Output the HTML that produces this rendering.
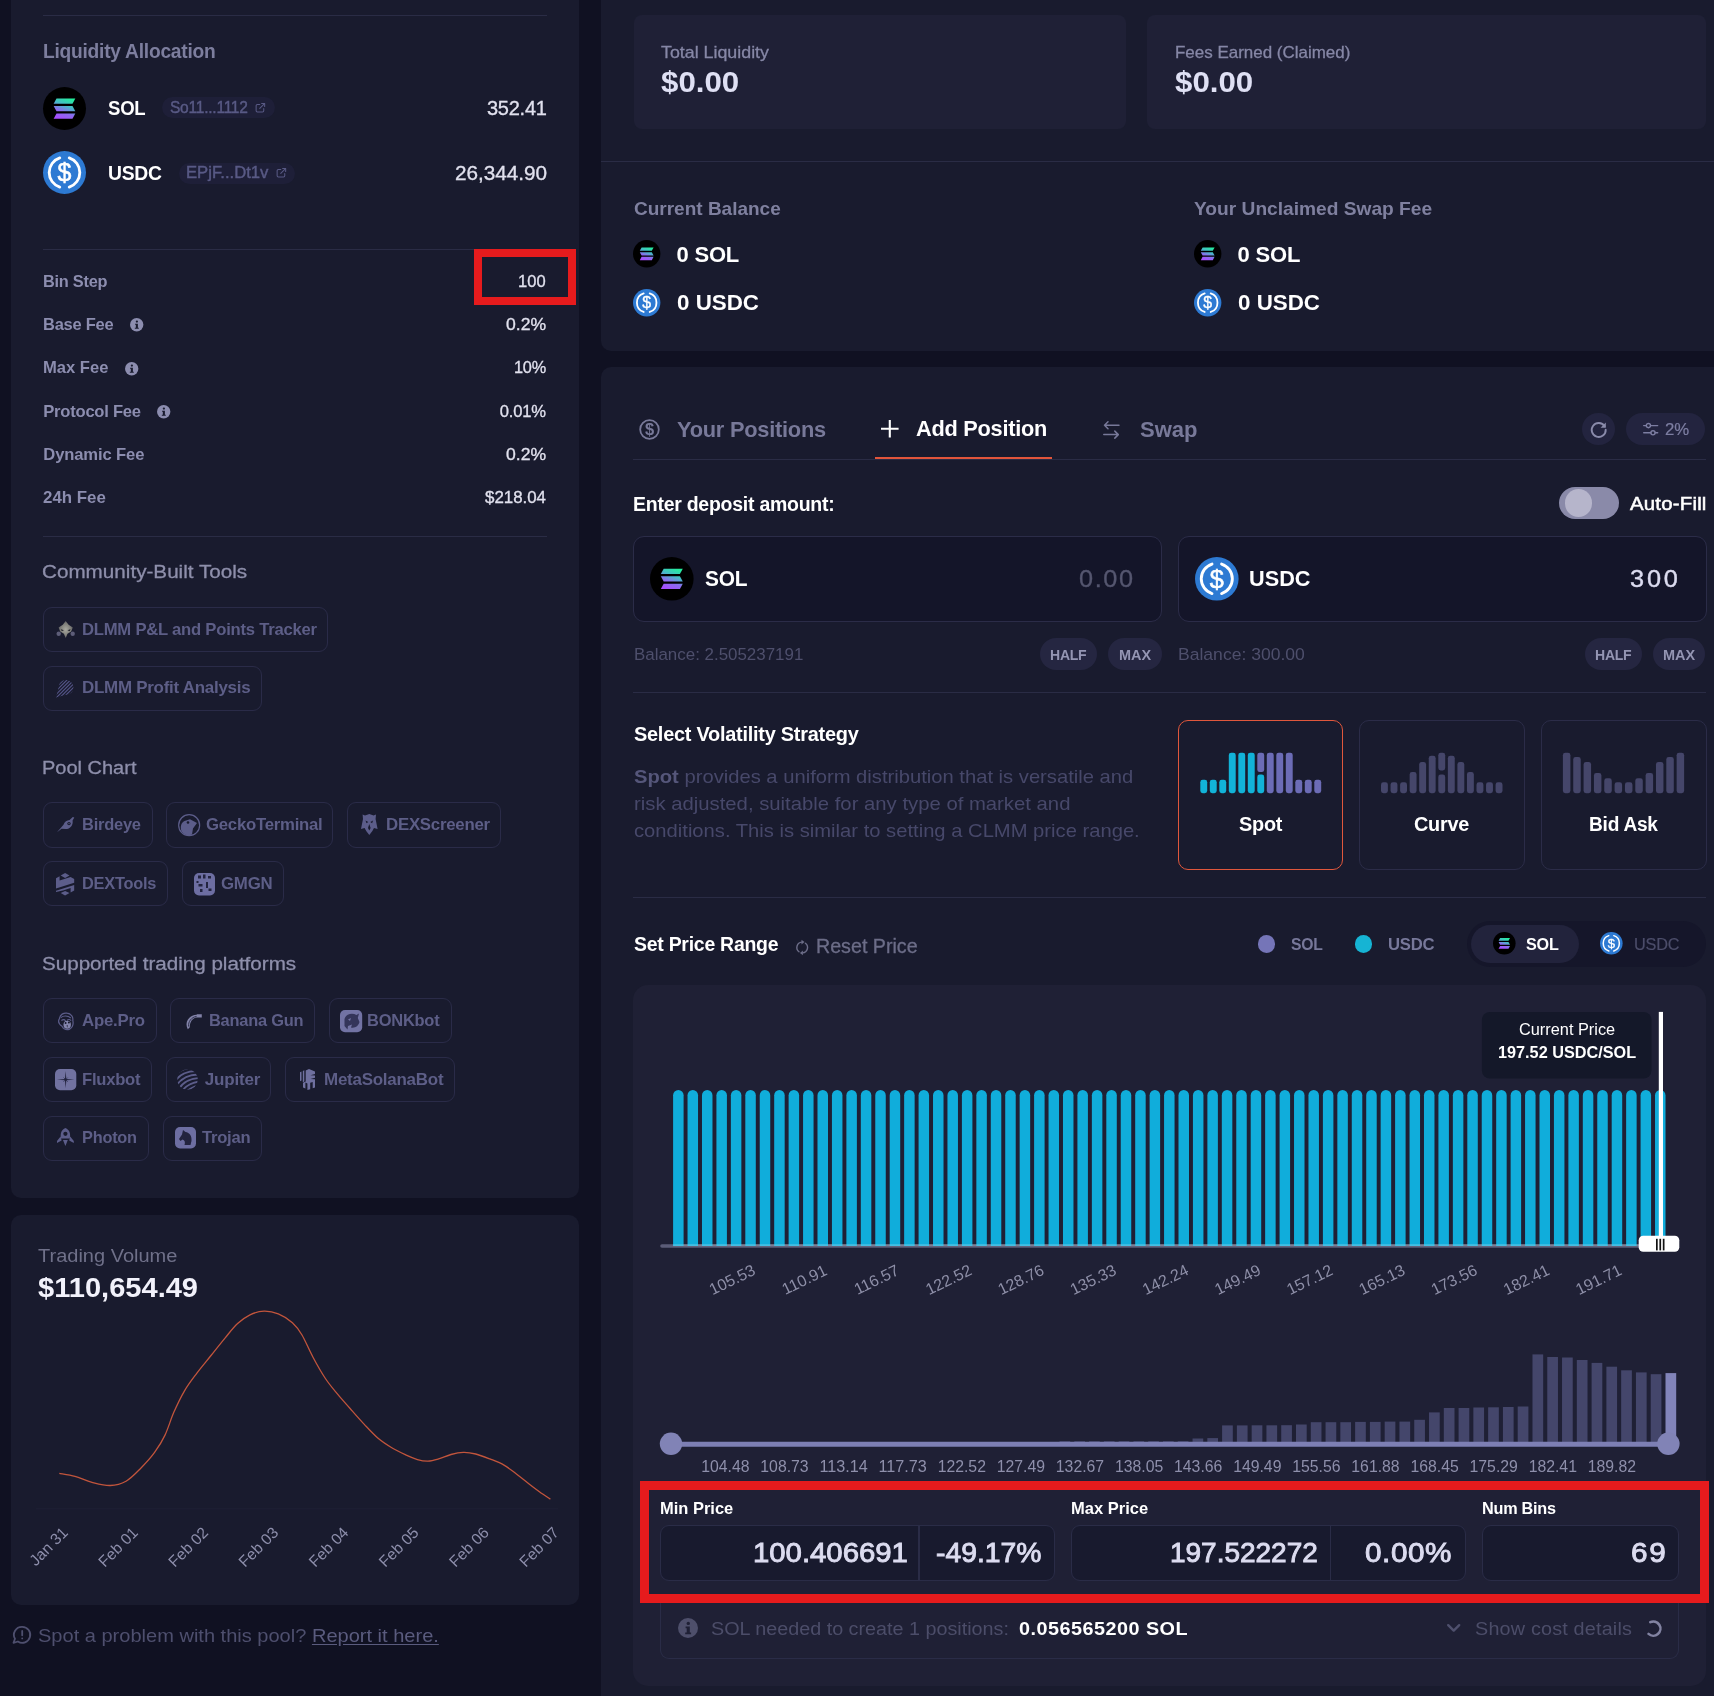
<!DOCTYPE html>
<html><head><meta charset="utf-8"><title>DLMM Pool</title>
<style>
html,body{margin:0;padding:0;background:#101122;}
body{width:1714px;height:1696px;overflow:hidden;position:relative;font-family:"Liberation Sans",sans-serif;}
#root{will-change:transform;position:absolute;left:0;top:0;width:1714px;height:1696px;overflow:hidden;background:#101122;}
.t{position:absolute;white-space:nowrap;margin:0;padding:0;}
.b{position:absolute;margin:0;padding:0;}
svg{overflow:visible;}
</style></head><body><div id="root">
<div class="b" style="left:11.00px;top:-20.00px;width:568.00px;height:1218.30px;background:#191b2e;border-radius:10px;"></div>
<div class="b" style="left:11.00px;top:1215.00px;width:568.00px;height:389.70px;background:#191b2e;border-radius:10px;"></div>
<div class="b" style="left:600.80px;top:-20.00px;width:1133.20px;height:371.00px;background:#191b2e;border-radius:10px;"></div>
<div class="b" style="left:600.80px;top:366.80px;width:1133.20px;height:1353.20px;background:#191b2e;border-radius:10px;"></div>
<div class="b" style="left:43.00px;top:15.00px;width:504.00px;height:1.20px;background:#2a2c45;"></div>
<div class="t" style="left:43.30px;top:38.50px;font-size:19.5px;line-height:25px;color:#7d7e9e;letter-spacing:-0.250px;font-weight:700;transform:scaleX(0.9843);transform-origin:0 0;">Liquidity Allocation</div>
<svg class="b" style="left:43.00px;top:86.80px;" width="43.00" height="43.00" viewBox="0 0 100 100"><defs><linearGradient id="sg1" gradientUnits="userSpaceOnUse" x1="40" y1="75" x2="60" y2="25"><stop offset="0" stop-color="#a84cff"/><stop offset="0.35" stop-color="#8a6cee"/><stop offset="0.65" stop-color="#45bcc6"/><stop offset="1" stop-color="#22f09c"/></linearGradient></defs><circle cx="50" cy="50" r="50" fill="#000"/><g fill="url(#sg1)"><polygon points="31.4,27 75.2,27 68.6,39.2 24.8,39.2"/><polygon points="24.8,44.4 68.6,44.4 75.2,56.4 31.4,56.4"/><polygon points="31.4,61.6 75.2,61.6 68.6,73.6 24.8,73.6"/></g></svg>
<div class="t" style="left:108.00px;top:95.00px;font-size:20px;line-height:26px;color:#ffffff;letter-spacing:-0.250px;font-weight:700;transform:scaleX(0.9282);transform-origin:0 0;">SOL</div>
<div class="b" style="left:161.50px;top:96.80px;width:113.40px;height:21.60px;background:#1e1f38;border-radius:11px;"></div>
<div class="t" style="left:169.90px;top:97.50px;font-size:15.7px;line-height:20px;color:#595a85;letter-spacing:-0.250px;-webkit-text-stroke:0.4px #595a85;transform:scaleX(0.9911);transform-origin:0 0;">So11...1112</div>
<svg class="b" style="left:253.60px;top:101.60px;" width="12.20" height="12.20" viewBox="0 0 20 20"><g fill="none" stroke="#595a85" stroke-width="1.7" stroke-linecap="round" stroke-linejoin="round"><path d="M9.5 4H5.5A2 2 0 0 0 3.5 6v8.5a2 2 0 0 0 2 2H14a2 2 0 0 0 2-2V10.5"/><path d="M12.5 2.5H17.5V7.5"/><path d="M17.2 2.8L9.5 10.5"/></g></svg>
<div class="t" style="left:486.90px;top:95.00px;font-size:20px;line-height:26px;color:#e1e1ee;letter-spacing:-0.250px;-webkit-text-stroke:0.3px #e1e1ee;transform:scaleX(0.9996);transform-origin:0 0;">352.41</div>
<svg class="b" style="left:43.00px;top:151.40px;" width="43.00" height="43.00" viewBox="0 0 100 100"><circle cx="50" cy="50" r="50" fill="#2d7ad3"/><g fill="none" stroke="#fff" stroke-width="6.6" stroke-linecap="round"><path d="M39 16.2 A35.5 35.5 0 0 0 39 83.8"/><path d="M61 16.2 A35.5 35.5 0 0 1 61 83.8"/></g><text x="50" y="70.8" text-anchor="middle" font-family="Liberation Sans, sans-serif" font-size="58" fill="#fff" stroke="#fff" stroke-width="1.3">$</text></svg>
<div class="t" style="left:108.00px;top:160.00px;font-size:20px;line-height:26px;color:#ffffff;letter-spacing:-0.250px;font-weight:700;transform:scaleX(0.9656);transform-origin:0 0;">USDC</div>
<div class="b" style="left:178.80px;top:162.50px;width:116.10px;height:21.20px;background:#1e1f38;border-radius:11px;"></div>
<div class="t" style="left:186.40px;top:162.50px;font-size:15.7px;line-height:20px;color:#595a85;letter-spacing:0.000px;-webkit-text-stroke:0.4px #595a85;transform:scaleX(1.0623);transform-origin:0 0;">EPjF...Dt1v</div>
<svg class="b" style="left:274.60px;top:166.70px;" width="12.20" height="12.20" viewBox="0 0 20 20"><g fill="none" stroke="#595a85" stroke-width="1.7" stroke-linecap="round" stroke-linejoin="round"><path d="M9.5 4H5.5A2 2 0 0 0 3.5 6v8.5a2 2 0 0 0 2 2H14a2 2 0 0 0 2-2V10.5"/><path d="M12.5 2.5H17.5V7.5"/><path d="M17.2 2.8L9.5 10.5"/></g></svg>
<div class="t" style="left:454.70px;top:160.00px;font-size:20px;line-height:26px;color:#e1e1ee;letter-spacing:0.000px;-webkit-text-stroke:0.3px #e1e1ee;transform:scaleX(1.0351);transform-origin:0 0;">26,344.90</div>
<div class="b" style="left:43.00px;top:248.80px;width:504.00px;height:1.20px;background:#2a2c45;"></div>
<div class="t" style="left:43.30px;top:270.50px;font-size:16.6px;line-height:22px;color:#8c8daf;letter-spacing:-0.250px;font-weight:700;transform:scaleX(0.9840);transform-origin:0 0;">Bin Step</div>
<div class="t" style="left:518.37px;top:270.50px;font-size:16.6px;line-height:22px;color:#e1e1ee;letter-spacing:0.000px;-webkit-text-stroke:0.3px #e1e1ee;transform:scaleX(0.9976);transform-origin:0 0;">100</div>
<div class="t" style="left:43.30px;top:313.50px;font-size:16.6px;line-height:22px;color:#8c8daf;letter-spacing:-0.250px;font-weight:700;transform:scaleX(0.9941);transform-origin:0 0;">Base Fee</div>
<div class="t" style="left:505.87px;top:313.50px;font-size:16.6px;line-height:22px;color:#e1e1ee;letter-spacing:0.000px;-webkit-text-stroke:0.3px #e1e1ee;transform:scaleX(1.0606);transform-origin:0 0;">0.2%</div>
<div class="t" style="left:43.30px;top:356.50px;font-size:16.6px;line-height:22px;color:#8c8daf;letter-spacing:0.000px;font-weight:700;transform:scaleX(0.9988);transform-origin:0 0;">Max Fee</div>
<div class="t" style="left:513.87px;top:356.50px;font-size:16.6px;line-height:22px;color:#e1e1ee;letter-spacing:-0.250px;-webkit-text-stroke:0.3px #e1e1ee;transform:scaleX(0.9818);transform-origin:0 0;">10%</div>
<div class="t" style="left:43.30px;top:400.50px;font-size:16.6px;line-height:22px;color:#8c8daf;letter-spacing:-0.247px;font-weight:700;">Protocol Fee</div>
<div class="t" style="left:499.67px;top:400.50px;font-size:16.6px;line-height:22px;color:#e1e1ee;letter-spacing:-0.185px;-webkit-text-stroke:0.3px #e1e1ee;">0.01%</div>
<div class="t" style="left:43.30px;top:443.50px;font-size:16.6px;line-height:22px;color:#8c8daf;letter-spacing:-0.128px;font-weight:700;">Dynamic Fee</div>
<div class="t" style="left:505.87px;top:443.50px;font-size:16.6px;line-height:22px;color:#e1e1ee;letter-spacing:0.000px;-webkit-text-stroke:0.3px #e1e1ee;transform:scaleX(1.0606);transform-origin:0 0;">0.2%</div>
<div class="t" style="left:43.30px;top:486.50px;font-size:16.6px;line-height:22px;color:#8c8daf;letter-spacing:-0.000px;font-weight:700;transform:scaleX(1.0163);transform-origin:0 0;">24h Fee</div>
<div class="t" style="left:484.97px;top:486.50px;font-size:16.6px;line-height:22px;color:#e1e1ee;letter-spacing:0.000px;-webkit-text-stroke:0.3px #e1e1ee;transform:scaleX(1.0171);transform-origin:0 0;">$218.04</div>
<svg class="b" style="left:129.90px;top:318.00px;" width="13.40" height="13.40" viewBox="0 0 20 20"><circle cx="10" cy="10" r="10" fill="#8c8daf"/><circle cx="10.3" cy="5.4" r="1.7" fill="#191b2e"/><path d="M7.6 8.6h4.2v6h1.3v1.6H7.2v-1.6h1.5v-4.4H7.6z" fill="#191b2e"/></svg>
<svg class="b" style="left:124.90px;top:361.50px;" width="13.40" height="13.40" viewBox="0 0 20 20"><circle cx="10" cy="10" r="10" fill="#8c8daf"/><circle cx="10.3" cy="5.4" r="1.7" fill="#191b2e"/><path d="M7.6 8.6h4.2v6h1.3v1.6H7.2v-1.6h1.5v-4.4H7.6z" fill="#191b2e"/></svg>
<svg class="b" style="left:156.80px;top:404.90px;" width="13.40" height="13.40" viewBox="0 0 20 20"><circle cx="10" cy="10" r="10" fill="#8c8daf"/><circle cx="10.3" cy="5.4" r="1.7" fill="#191b2e"/><path d="M7.6 8.6h4.2v6h1.3v1.6H7.2v-1.6h1.5v-4.4H7.6z" fill="#191b2e"/></svg>
<div class="b" style="left:473.70px;top:248.90px;width:101.90px;height:55.70px;border:8.9px solid #e61b1d;box-sizing:border-box;"></div>
<div class="b" style="left:43.00px;top:535.80px;width:504.00px;height:1.20px;background:#2a2c45;"></div>
<div class="t" style="left:42.40px;top:559.50px;font-size:18.8px;line-height:24px;color:#8e8fab;letter-spacing:0.000px;-webkit-text-stroke:0.3px #8e8fab;transform:scaleX(1.1000);transform-origin:0 0;">Community-Built Tools</div>
<div class="t" style="left:42.40px;top:755.50px;font-size:18.8px;line-height:24px;color:#8e8fab;letter-spacing:0.000px;-webkit-text-stroke:0.3px #8e8fab;transform:scaleX(1.0643);transform-origin:0 0;">Pool Chart</div>
<div class="t" style="left:42.40px;top:951.50px;font-size:18.8px;line-height:24px;color:#8e8fab;letter-spacing:0.000px;-webkit-text-stroke:0.3px #8e8fab;transform:scaleX(1.0963);transform-origin:0 0;">Supported trading platforms</div>
<div class="b" style="left:42.60px;top:606.70px;width:285.90px;height:45.40px;border:1.2px solid #2a2b48;border-radius:9px;box-sizing:border-box;"></div>
<div class="t" style="left:82.20px;top:618.50px;font-size:17px;line-height:22px;color:#5d5e87;letter-spacing:-0.250px;font-weight:700;transform:scaleX(0.9804);transform-origin:0 0;">DLMM P&amp;L and Points Tracker</div>
<div class="b" style="left:42.60px;top:665.80px;width:219.50px;height:45.40px;border:1.2px solid #2a2b48;border-radius:9px;box-sizing:border-box;"></div>
<div class="t" style="left:82.20px;top:676.50px;font-size:17px;line-height:22px;color:#5d5e87;letter-spacing:-0.250px;font-weight:700;transform:scaleX(0.9958);transform-origin:0 0;">DLMM Profit Analysis</div>
<div class="b" style="left:42.60px;top:801.90px;width:110.60px;height:46.30px;border:1.2px solid #2a2b48;border-radius:9px;box-sizing:border-box;"></div>
<div class="t" style="left:82.20px;top:813.50px;font-size:17px;line-height:22px;color:#5d5e87;letter-spacing:-0.250px;font-weight:700;transform:scaleX(0.9685);transform-origin:0 0;">Birdeye</div>
<div class="b" style="left:165.50px;top:801.90px;width:167.70px;height:46.30px;border:1.2px solid #2a2b48;border-radius:9px;box-sizing:border-box;"></div>
<div class="t" style="left:205.50px;top:813.50px;font-size:17px;line-height:22px;color:#5d5e87;letter-spacing:-0.250px;font-weight:700;transform:scaleX(0.9847);transform-origin:0 0;">GeckoTerminal</div>
<div class="b" style="left:346.50px;top:801.90px;width:154.90px;height:46.30px;border:1.2px solid #2a2b48;border-radius:9px;box-sizing:border-box;"></div>
<div class="t" style="left:385.90px;top:813.50px;font-size:17px;line-height:22px;color:#5d5e87;letter-spacing:-0.250px;font-weight:700;transform:scaleX(0.9897);transform-origin:0 0;">DEXScreener</div>
<div class="b" style="left:42.70px;top:860.70px;width:125.50px;height:45.40px;border:1.2px solid #2a2b48;border-radius:9px;box-sizing:border-box;"></div>
<div class="t" style="left:82.30px;top:872.50px;font-size:17px;line-height:22px;color:#5d5e87;letter-spacing:-0.250px;font-weight:700;transform:scaleX(0.9621);transform-origin:0 0;">DEXTools</div>
<div class="b" style="left:181.50px;top:860.70px;width:102.60px;height:45.40px;border:1.2px solid #2a2b48;border-radius:9px;box-sizing:border-box;"></div>
<div class="t" style="left:220.90px;top:872.50px;font-size:17px;line-height:22px;color:#5d5e87;letter-spacing:-0.250px;font-weight:700;transform:scaleX(0.9907);transform-origin:0 0;">GMGN</div>
<div class="b" style="left:42.70px;top:997.70px;width:114.00px;height:45.40px;border:1.2px solid #2a2b48;border-radius:9px;box-sizing:border-box;"></div>
<div class="t" style="left:82.30px;top:1009.50px;font-size:17px;line-height:22px;color:#5d5e87;letter-spacing:-0.250px;font-weight:700;transform:scaleX(0.9886);transform-origin:0 0;">Ape.Pro</div>
<div class="b" style="left:169.60px;top:997.70px;width:145.50px;height:45.40px;border:1.2px solid #2a2b48;border-radius:9px;box-sizing:border-box;"></div>
<div class="t" style="left:209.20px;top:1009.50px;font-size:17px;line-height:22px;color:#5d5e87;letter-spacing:-0.250px;font-weight:700;transform:scaleX(0.9650);transform-origin:0 0;">Banana Gun</div>
<div class="b" style="left:329.00px;top:997.70px;width:122.60px;height:45.40px;border:1.2px solid #2a2b48;border-radius:9px;box-sizing:border-box;"></div>
<div class="t" style="left:367.40px;top:1009.50px;font-size:17px;line-height:22px;color:#5d5e87;letter-spacing:-0.250px;font-weight:700;transform:scaleX(0.9689);transform-origin:0 0;">BONKbot</div>
<div class="b" style="left:42.70px;top:1056.90px;width:109.40px;height:45.40px;border:1.2px solid #2a2b48;border-radius:9px;box-sizing:border-box;"></div>
<div class="t" style="left:82.30px;top:1068.50px;font-size:17px;line-height:22px;color:#5d5e87;letter-spacing:-0.250px;font-weight:700;transform:scaleX(0.9778);transform-origin:0 0;">Fluxbot</div>
<div class="b" style="left:165.80px;top:1056.90px;width:105.50px;height:45.40px;border:1.2px solid #2a2b48;border-radius:9px;box-sizing:border-box;"></div>
<div class="t" style="left:204.80px;top:1068.50px;font-size:17px;line-height:22px;color:#5d5e87;letter-spacing:-0.172px;font-weight:700;">Jupiter</div>
<div class="b" style="left:285.10px;top:1056.90px;width:170.10px;height:45.40px;border:1.2px solid #2a2b48;border-radius:9px;box-sizing:border-box;"></div>
<div class="t" style="left:324.10px;top:1068.50px;font-size:17px;line-height:22px;color:#5d5e87;letter-spacing:-0.250px;font-weight:700;transform:scaleX(0.9979);transform-origin:0 0;">MetaSolanaBot</div>
<div class="b" style="left:42.70px;top:1115.90px;width:106.60px;height:45.40px;border:1.2px solid #2a2b48;border-radius:9px;box-sizing:border-box;"></div>
<div class="t" style="left:82.30px;top:1126.50px;font-size:17px;line-height:22px;color:#5d5e87;letter-spacing:-0.250px;font-weight:700;transform:scaleX(0.9609);transform-origin:0 0;">Photon</div>
<div class="b" style="left:162.60px;top:1115.90px;width:99.60px;height:45.40px;border:1.2px solid #2a2b48;border-radius:9px;box-sizing:border-box;"></div>
<div class="t" style="left:202.20px;top:1126.50px;font-size:17px;line-height:22px;color:#5d5e87;letter-spacing:-0.250px;font-weight:700;transform:scaleX(0.9777);transform-origin:0 0;">Trojan</div>
<svg class="b" style="left:56.00px;top:620.80px;" width="19.40" height="17.00" viewBox="0 0 19.400 17"><defs><radialGradient id="pg" cx=".5" cy=".5" r=".6"><stop offset="0" stop-color="#a9a9a0"/><stop offset=".6" stop-color="#7d7d78"/><stop offset="1" stop-color="#4a4a55"/></radialGradient></defs><path d="M9.700 0L12.600 3.800L16.800 6.500L15.200 10.600L11.500 12.800L9.700 17L7.900 12.800L4.200 10.600L2.600 6.500L6.800 3.800Z" fill="url(#pg)"/><circle cx="2.700" cy="12.800" r="2.200" fill="#5d5d78"/><circle cx="16.700" cy="12.800" r="2.200" fill="#5d5d78"/><path d="M4.800 8.200l3.200 1-2.200 .900zM14.600 8.200l-3.200 1 2.200 .900z" fill="#15161f"/></svg>
<svg class="b" style="left:56.40px;top:680.00px;" width="17.40" height="17.40" viewBox="0 0 17.400 17.400"><defs><clipPath id="hc"><circle cx="10" cy="7.400" r="7.400"/><path d="M3.500 3.800L0 17.400L13.600 13.900Z"/></clipPath></defs><g clip-path="url(#hc)" stroke="#55568a" stroke-width="1.150"><line x1="-2" y1="6.00" x2="6.00" y2="-2"/><line x1="-2" y1="9.50" x2="9.50" y2="-2"/><line x1="-2" y1="13.00" x2="13.00" y2="-2"/><line x1="-2" y1="16.50" x2="16.50" y2="-2"/><line x1="-2" y1="20.00" x2="20.00" y2="-2"/><line x1="-2" y1="23.50" x2="23.50" y2="-2"/><line x1="-2" y1="27.00" x2="27.00" y2="-2"/><line x1="-2" y1="30.50" x2="30.50" y2="-2"/></g></svg>
<svg class="b" style="left:56.90px;top:817.20px;" width="17.80" height="15.40" viewBox="0 0 17.800 15.400"><path d="M0 15.200 L6.500 7.800 C7.500 4.800 10 3.200 12.600 3 L15.800 0 L17.300 .6 L15.600 3.400 C16.400 8 13.400 12 8.600 12 L4.600 11.800 Z" fill="#5c5d8a"/><circle cx="12" cy="6.600" r="1.700" fill="#191b2e"/><circle cx="12" cy="6.600" r=".7" fill="#5c5d8a"/></svg>
<svg class="b" style="left:177.70px;top:813.90px;" width="22.30" height="22.30" viewBox="0 0 22.300 22.300"><circle cx="11.150" cy="11.150" r="10.500" fill="none" stroke="#5c5d8a" stroke-width="1.200"/><path d="M3.600 17.500 C2 13 3 8.500 6.500 7 L12 5.200 L19 9 L15 14.500 L14 20.500 C10 22 6 20.800 3.600 17.500Z" fill="#5c5d8a"/><circle cx="10" cy="8.500" r="1.300" fill="#191b2e"/></svg>
<svg class="b" style="left:360.50px;top:814.20px;" width="16.60" height="21.00" viewBox="0 0 16.600 21"><path d="M8.300 0 L12.600 1.600 L15 .600 L14.600 5 L16.600 15 L13 14 L11.400 17 L8.300 21 L5.200 17 L3.600 14 L0 15 L2 5 L1.600 .600 L4 1.600 Z" fill="#5c5d8a"/><path d="M4.500 6.500l2.800 1.500-1.800 1.200zM12.100 6.500l-2.800 1.500 1.800 1.200z" fill="#191b2e"/><path d="M8.300 10 L9.600 14 L8.300 16.500 L7 14Z" fill="#191b2e"/></svg>
<svg class="b" style="left:56.20px;top:872.70px;" width="18.20" height="22.60" viewBox="0 0 18.200 22.600"><g fill="#5c5d8a"><path d="M9.100 0 L13.500 2.500 L9.100 5 L4.700 2.500Z"/><path d="M0 5.200 L3.600 3.200 L3.600 7.600 L14.600 4 L18.200 5.900 L18.200 9.800 L0 15.600Z"/><path d="M18.200 12 L18.200 17.400 L14.600 19.400 L14.600 15 L7 17.600 L0 19 L0 17.800Z"/><path d="M9.100 22.600 L4.700 20.100 L9.100 17.900 L13.500 20.100Z"/></g></svg>
<svg class="b" style="left:194.00px;top:872.70px;" width="21.00" height="22.40" viewBox="0 0 21 22.400"><rect width="21" height="22.400" rx="5" fill="#6d6ea2"/><g fill="#23243f"><rect x="4" y="2.500" width="3" height="3"/><rect x="9" y="1.500" width="2.500" height="4"/><rect x="14" y="3" width="3" height="2.500"/><rect x="2.500" y="8" width="2" height="2"/><rect x="4.500" y="11" width="4" height="2.500"/><rect x="12" y="9" width="2" height="6"/><rect x="6" y="16" width="2.500" height="3"/><rect x="14.500" y="15.500" width="3" height="2.500"/></g></svg>
<svg class="b" style="left:56.80px;top:1011.90px;" width="16.80" height="18.20" viewBox="0 0 16.800 18.200"><g fill="none" stroke="#5c5d8a" stroke-width="1.200"><path d="M2.600 6.200C3 2.600 6.600 .600 10 1.200C14 1.600 16.400 4.800 15.800 8.400C16.600 11.800 15.400 15.600 12.200 17.400C9.200 18.200 6.400 16.800 5 14.200C2.200 12.400 .600 9.400 2.600 6.200Z"/><path d="M3.800 5.600C6.400 3.400 10.800 3.400 13.800 6"/><path d="M4.400 8.600C6 7.400 7.600 7.600 8.600 8.800M10.200 8.200C11.600 7 13.200 7.400 14 8.800"/></g><ellipse cx="10.200" cy="12.800" rx="3.700" ry="4" fill="#8485ad"/><circle cx="8.600" cy="11" r="1" fill="#191b2e"/><circle cx="11.900" cy="10.600" r="1" fill="#191b2e"/><path d="M9.600 13.200L10.800 13.200L10.200 16Z" fill="#191b2e"/></svg>
<svg class="b" style="left:184.60px;top:1014.20px;" width="17.20" height="15.40" viewBox="0 0 17.200 15.400"><path d="M2.800 15.200C-.800 8.400 3.400 1.400 11.800 .800L11.800 .200L16.800 .200L16.800 3.400L11.800 3.400C7.200 4 4.600 8.200 4.800 13.200Z" fill="#8283a8"/><path d="M3.600 12.600C3 7.600 6.400 3.200 11.600 2.400" fill="none" stroke="#2a2b48" stroke-width=".9"/></svg>
<svg class="b" style="left:339.80px;top:1009.80px;" width="22.20" height="22.20" viewBox="0 0 22.200 22.200"><rect width="22.200" height="22.200" rx="5" fill="#7273a4"/><path d="M4.500 9C6 4 12 2.500 16.500 5L19 3.500L17.800 8L19.500 12C18.500 16 15 18.500 11 17.500L12 14.500L8 16L7.500 19.500L4.500 16Z" fill="#34355a"/><path d="M8 9.500L11 8L10 11Z" fill="#7273a4"/></svg>
<svg class="b" style="left:54.80px;top:1068.80px;" width="21.30" height="21.30" viewBox="0 0 21.300 21.300"><rect width="21.300" height="21.300" rx="5" fill="#7172a0"/><path d="M10.650 2L11.350 9.950L19.300 10.650L11.350 11.350L10.650 19.300L9.950 11.350L2 10.650L9.950 9.950Z" fill="#23243f"/><path d="M8.600 8.600L12.700 12.700M12.700 8.600L8.600 12.700" stroke="#23243f" stroke-width=".7"/></svg>
<svg class="b" style="left:176.80px;top:1068.80px;" width="21.00" height="21.00" viewBox="0 0 21 21"><defs><clipPath id="jc"><circle cx="10.500" cy="10.500" r="10.300"/></clipPath></defs><g clip-path="url(#jc)"><g transform="rotate(-32 10.500 10.500)" fill="none" stroke="#5c5d8a" stroke-width="2"><path d="M-4 2.5 C5 -2.5 16 -1.5 26 6.5"/><path d="M-4 6.6 C5 1.6 16 2.6 26 10.6"/><path d="M-4 10.7 C5 5.7 16 6.7 26 14.7"/><path d="M-4 14.8 C5 9.8 16 10.8 26 18.8"/><path d="M-4 18.9 C5 13.9 16 14.9 26 22.9"/><path d="M-4 23.0 C5 18.0 16 19.0 26 27.0"/><path d="M-4 27.1 C5 22.1 16 23.1 26 31.1"/></g></g></svg>
<svg class="b" style="left:299.90px;top:1069.20px;" width="15.00" height="21.00" viewBox="0 0 15 21"><g fill="#6f709f"><path d="M0 3.200L1.500 2.400L1.500 11.400L0 12.200Z"/><path d="M2.800 2L4.300 1.200L4.300 12.400L2.800 13.200Z"/><path d="M5.700 1.600L9 0L15 2.400L15 5L10.400 6.200L15 6.600L15 8.800L10.400 10L15 10.200L15 18.400L12.700 19.200L12.700 13L10.200 13.800L10.200 20.200L7.400 21L7.400 14.600L5.400 13.400L5.400 19.600L3 18.400L3 13.800L5.700 12.600Z"/></g></svg>
<svg class="b" style="left:56.90px;top:1127.90px;" width="16.80" height="18.00" viewBox="0 0 16.800 18"><g fill="#5c5d8a"><path d="M8.400 0 C12.500 1.500 13.800 6 12.800 10.500 L4 10.500 C3 6 4.300 1.500 8.400 0Z"/><path d="M3.600 8.500 L0 13 L0 15 L4.600 12.500Z"/><path d="M13.200 8.500 L16.800 13 L16.800 15 L12.200 12.500Z"/><path d="M6 12 L10.800 12 L8.400 18Z"/></g><circle cx="8.400" cy="5.800" r="2.100" fill="#191b2e"/></svg>
<svg class="b" style="left:174.70px;top:1127.40px;" width="21.00" height="21.40" viewBox="0 0 21 21.400"><rect width="21" height="21.400" rx="5" fill="#6d6ea2"/><path d="M8 3 L10.500 5 C14.500 5.500 17 9 16.500 14 L15.500 18 L9.500 18 C10.500 15 9.500 13 7.500 12.500 L5.500 14 L4 12 L7 7.500Z" fill="#23243f"/></svg>
<div class="t" style="left:38.20px;top:1243.50px;font-size:18.3px;line-height:24px;color:#6f7089;letter-spacing:-0.000px;transform:scaleX(1.0943);transform-origin:0 0;">Trading Volume</div>
<div class="t" style="left:38.20px;top:1269.50px;font-size:27.6px;line-height:36px;color:#f2f2fb;letter-spacing:0.000px;font-weight:700;transform:scaleX(1.0534);transform-origin:0 0;">$110,654.49</div>
<svg class="b" style="left:0.00px;top:0.00px;pointer-events:none;" width="600.00" height="1696.00" viewBox="0 0 600 1696"><line x1="36" x2="558" y1="1508.8" y2="1508.8" stroke="#1e2036" stroke-width="1"/><path d="M59.3 1473.4 C61.9 1473.9 69.5 1474.9 75.0 1476.4 C80.5 1477.9 86.1 1480.8 92.0 1482.3 C97.9 1483.8 104.5 1485.7 110.2 1485.5 C115.9 1485.3 121.0 1484.0 126.0 1481.2 C131.0 1478.4 135.6 1473.5 140.3 1468.7 C145.0 1464.0 150.3 1458.3 154.4 1452.7 C158.5 1447.1 161.8 1441.9 165.0 1435.1 C168.2 1428.3 170.7 1419.5 173.9 1412.1 C177.2 1404.7 180.7 1397.3 184.5 1390.8 C188.3 1384.3 192.5 1379.0 196.9 1373.1 C201.3 1367.2 206.3 1361.4 211.0 1355.5 C215.7 1349.6 220.8 1343.1 225.2 1337.8 C229.6 1332.5 233.5 1327.4 237.6 1323.6 C241.7 1319.8 245.6 1316.9 250.0 1314.8 C254.4 1312.7 259.4 1311.3 264.1 1311.2 C268.8 1311.1 273.6 1312.0 278.3 1313.9 C283.0 1315.8 288.4 1319.2 292.4 1322.7 C296.3 1326.2 298.6 1329.2 302.0 1335.0 C305.4 1340.8 309.1 1350.0 313.0 1357.2 C316.9 1364.5 321.3 1372.3 325.4 1378.5 C329.5 1384.7 333.7 1389.4 337.8 1394.4 C341.9 1399.4 345.7 1403.5 350.1 1408.5 C354.5 1413.5 359.6 1419.4 364.3 1424.4 C369.0 1429.4 373.7 1434.6 378.4 1438.6 C383.1 1442.6 387.9 1445.5 392.6 1448.3 C397.3 1451.1 402.7 1453.5 406.8 1455.4 C410.9 1457.3 413.9 1458.5 417.4 1459.5 C420.9 1460.5 424.5 1461.2 428.0 1461.1 C431.5 1461.0 434.8 1460.0 438.6 1458.9 C442.4 1457.8 446.9 1455.6 451.0 1454.5 C455.1 1453.4 459.3 1452.5 463.4 1452.4 C467.5 1452.3 471.3 1452.9 475.7 1454.0 C480.1 1455.1 485.2 1457.1 489.9 1458.9 C494.6 1460.8 499.6 1462.6 504.0 1465.1 C508.4 1467.6 512.3 1470.9 516.4 1474.0 C520.5 1477.1 525.0 1480.8 528.8 1483.7 C532.6 1486.7 535.8 1489.1 539.4 1491.7 C543.0 1494.3 548.6 1497.9 550.4 1499.1" fill="none" stroke="#c2553c" stroke-width="1.3"/><text x="68.9" y="1533.6" text-anchor="end" transform="rotate(-45 68.9 1533.6)" font-family="Liberation Sans, sans-serif" font-size="15.6" fill="#8d8eab">Jan 31</text><text x="139.0" y="1533.6" text-anchor="end" transform="rotate(-45 139.0 1533.6)" font-family="Liberation Sans, sans-serif" font-size="15.6" fill="#8d8eab">Feb 01</text><text x="209.2" y="1533.6" text-anchor="end" transform="rotate(-45 209.2 1533.6)" font-family="Liberation Sans, sans-serif" font-size="15.6" fill="#8d8eab">Feb 02</text><text x="279.4" y="1533.6" text-anchor="end" transform="rotate(-45 279.4 1533.6)" font-family="Liberation Sans, sans-serif" font-size="15.6" fill="#8d8eab">Feb 03</text><text x="349.5" y="1533.6" text-anchor="end" transform="rotate(-45 349.5 1533.6)" font-family="Liberation Sans, sans-serif" font-size="15.6" fill="#8d8eab">Feb 04</text><text x="419.7" y="1533.6" text-anchor="end" transform="rotate(-45 419.7 1533.6)" font-family="Liberation Sans, sans-serif" font-size="15.6" fill="#8d8eab">Feb 05</text><text x="489.8" y="1533.6" text-anchor="end" transform="rotate(-45 489.8 1533.6)" font-family="Liberation Sans, sans-serif" font-size="15.6" fill="#8d8eab">Feb 06</text><text x="560.0" y="1533.6" text-anchor="end" transform="rotate(-45 560.0 1533.6)" font-family="Liberation Sans, sans-serif" font-size="15.6" fill="#8d8eab">Feb 07</text></svg>
<svg class="b" style="left:12.00px;top:1624.50px;" width="19.50" height="19.50" viewBox="0 0 19.500 19.500"><g fill="none" stroke="#4e4f6e" stroke-width="1.8" stroke-linecap="round" stroke-linejoin="round"><path d="M10.200 1.800a8 8 0 1 1-4.300 14.700L1.500 17.800l1.500-4A8 8 0 0 1 10.200 1.800z"/><path d="M10.200 6v4.300"/><path d="M10.200 13.300v.1"/></g></svg>
<div class="t" style="left:38.10px;top:1623.00px;font-size:19px;line-height:25px;color:#4e4f6e;letter-spacing:0.000px;transform:scaleX(1.0543);transform-origin:0 0;">Spot a problem with this pool? <span style="text-decoration:underline;color:#5a5b7e;text-underline-offset:2px">Report it here.</span></div>
<div class="b" style="left:634.10px;top:14.70px;width:491.70px;height:113.90px;background:#1f2036;border-radius:8px;"></div>
<div class="b" style="left:1147.30px;top:14.70px;width:558.80px;height:113.90px;background:#1f2036;border-radius:8px;"></div>
<div class="t" style="left:661.00px;top:41.50px;font-size:17px;line-height:22px;color:#8687a6;letter-spacing:0.000px;-webkit-text-stroke:0.3px #8687a6;transform:scaleX(1.0480);transform-origin:0 0;">Total Liquidity</div>
<div class="t" style="left:661.00px;top:63.50px;font-size:28.6px;line-height:37px;color:#dfe0f4;letter-spacing:0.000px;font-weight:700;transform:scaleX(1.0930);transform-origin:0 0;">$0.00</div>
<div class="t" style="left:1174.50px;top:41.50px;font-size:17px;line-height:22px;color:#8687a6;letter-spacing:0.000px;-webkit-text-stroke:0.3px #8687a6;transform:scaleX(0.9978);transform-origin:0 0;">Fees Earned (Claimed)</div>
<div class="t" style="left:1174.50px;top:63.50px;font-size:28.6px;line-height:37px;color:#dfe0f4;letter-spacing:0.000px;font-weight:700;transform:scaleX(1.0930);transform-origin:0 0;">$0.00</div>
<div class="b" style="left:600.80px;top:160.60px;width:1113.20px;height:1.20px;background:#2a2c45;"></div>
<div class="t" style="left:634.10px;top:196.00px;font-size:19px;line-height:25px;color:#7f809f;letter-spacing:0.000px;font-weight:700;transform:scaleX(0.9999);transform-origin:0 0;">Current Balance</div>
<div class="t" style="left:1194.20px;top:196.00px;font-size:19px;line-height:25px;color:#7f809f;letter-spacing:-0.000px;font-weight:700;transform:scaleX(1.0084);transform-origin:0 0;">Your Unclaimed Swap Fee</div>
<svg class="b" style="left:632.90px;top:239.70px;" width="27.40" height="27.40" viewBox="0 0 100 100"><defs><linearGradient id="sg2" gradientUnits="userSpaceOnUse" x1="40" y1="75" x2="60" y2="25"><stop offset="0" stop-color="#a84cff"/><stop offset="0.35" stop-color="#8a6cee"/><stop offset="0.65" stop-color="#45bcc6"/><stop offset="1" stop-color="#22f09c"/></linearGradient></defs><circle cx="50" cy="50" r="50" fill="#000"/><g fill="url(#sg2)"><polygon points="31.4,27 75.2,27 68.6,39.2 24.8,39.2"/><polygon points="24.8,44.4 68.6,44.4 75.2,56.4 31.4,56.4"/><polygon points="31.4,61.6 75.2,61.6 68.6,73.6 24.8,73.6"/></g></svg>
<svg class="b" style="left:632.90px;top:288.70px;" width="27.40" height="27.40" viewBox="0 0 100 100"><circle cx="50" cy="50" r="50" fill="#2d7ad3"/><g fill="none" stroke="#fff" stroke-width="6.6" stroke-linecap="round"><path d="M39 16.2 A35.5 35.5 0 0 0 39 83.8"/><path d="M61 16.2 A35.5 35.5 0 0 1 61 83.8"/></g><text x="50" y="70.8" text-anchor="middle" font-family="Liberation Sans, sans-serif" font-size="58" fill="#fff" stroke="#fff" stroke-width="1.3">$</text></svg>
<div class="t" style="left:676.50px;top:240.00px;font-size:22px;line-height:29px;color:#ffffff;letter-spacing:-0.193px;font-weight:700;">0 SOL</div>
<div class="t" style="left:676.50px;top:288.00px;font-size:22px;line-height:29px;color:#ffffff;letter-spacing:0.000px;font-weight:700;transform:scaleX(1.0163);transform-origin:0 0;">0 USDC</div>
<svg class="b" style="left:1193.80px;top:239.70px;" width="27.40" height="27.40" viewBox="0 0 100 100"><defs><linearGradient id="sg3" gradientUnits="userSpaceOnUse" x1="40" y1="75" x2="60" y2="25"><stop offset="0" stop-color="#a84cff"/><stop offset="0.35" stop-color="#8a6cee"/><stop offset="0.65" stop-color="#45bcc6"/><stop offset="1" stop-color="#22f09c"/></linearGradient></defs><circle cx="50" cy="50" r="50" fill="#000"/><g fill="url(#sg3)"><polygon points="31.4,27 75.2,27 68.6,39.2 24.8,39.2"/><polygon points="24.8,44.4 68.6,44.4 75.2,56.4 31.4,56.4"/><polygon points="31.4,61.6 75.2,61.6 68.6,73.6 24.8,73.6"/></g></svg>
<svg class="b" style="left:1193.80px;top:288.70px;" width="27.40" height="27.40" viewBox="0 0 100 100"><circle cx="50" cy="50" r="50" fill="#2d7ad3"/><g fill="none" stroke="#fff" stroke-width="6.6" stroke-linecap="round"><path d="M39 16.2 A35.5 35.5 0 0 0 39 83.8"/><path d="M61 16.2 A35.5 35.5 0 0 1 61 83.8"/></g><text x="50" y="70.8" text-anchor="middle" font-family="Liberation Sans, sans-serif" font-size="58" fill="#fff" stroke="#fff" stroke-width="1.3">$</text></svg>
<div class="t" style="left:1237.60px;top:240.00px;font-size:22px;line-height:29px;color:#ffffff;letter-spacing:-0.193px;font-weight:700;">0 SOL</div>
<div class="t" style="left:1237.60px;top:288.00px;font-size:22px;line-height:29px;color:#ffffff;letter-spacing:0.000px;font-weight:700;transform:scaleX(1.0163);transform-origin:0 0;">0 USDC</div>
<svg class="b" style="left:639.20px;top:419.30px;" width="21.00" height="21.00" viewBox="0 0 21 21"><circle cx="10.500" cy="10.500" r="9.300" fill="none" stroke="#787999" stroke-width="1.800"/><text x="10.500" y="16.200" text-anchor="middle" font-family="Liberation Sans, sans-serif" font-weight="700" font-size="16.500" fill="#787999">$</text></svg>
<div class="t" style="left:676.90px;top:415.00px;font-size:22px;line-height:29px;color:#787999;letter-spacing:-0.250px;font-weight:700;transform:scaleX(0.9916);transform-origin:0 0;">Your Positions</div>
<svg class="b" style="left:880.50px;top:420.20px;" width="17.60" height="17.60" viewBox="0 0 17.600 17.600"><path d="M8.800 0V17.600M0 8.800H17.600" stroke="#fff" stroke-width="2.100" fill="none"/></svg>
<div class="t" style="left:916.00px;top:414.00px;font-size:22px;line-height:29px;color:#ffffff;letter-spacing:-0.250px;font-weight:700;transform:scaleX(0.9879);transform-origin:0 0;">Add Position</div>
<svg class="b" style="left:1103.40px;top:422.20px;" width="16.80" height="16.80" viewBox="0 0 16.800 16.800"><g fill="none" stroke="#787999" stroke-width="1.500" stroke-linecap="round" stroke-linejoin="round"><path d="M16 3.300H1.500M5 -.200L1.500 3.300L5 6.800"/><path d="M.800 12.600H15.300M11.800 9.100L15.300 12.600L11.800 16.100"/></g></svg>
<div class="t" style="left:1139.60px;top:415.00px;font-size:22px;line-height:29px;color:#787999;letter-spacing:0.000px;font-weight:700;transform:scaleX(1.0007);transform-origin:0 0;">Swap</div>
<div class="b" style="left:633.00px;top:458.70px;width:1072.50px;height:1.20px;background:#2a2c45;"></div>
<div class="b" style="left:875.20px;top:456.80px;width:176.90px;height:2.60px;background:#e2553b;"></div>
<div class="b" style="left:1582.30px;top:413.10px;width:32.40px;height:32.40px;background:#23243f;border-radius:17px;"></div>
<svg class="b" style="left:1589.80px;top:420.60px;" width="17.40" height="17.40" viewBox="0 0 17.400 17.400"><g fill="none" stroke="#8a8bab" stroke-width="1.900" stroke-linecap="round"><path d="M14.600 5.200A7 7 0 1 0 15.700 8.700"/></g><path d="M15.800 1.600V6.800H10.600Z" fill="#8a8bab"/></svg>
<div class="b" style="left:1626.40px;top:413.10px;width:79.00px;height:32.40px;background:#23243f;border-radius:17px;"></div>
<svg class="b" style="left:1643.40px;top:422.20px;" width="15.40" height="14.40" viewBox="0 0 15.400 14.400"><g fill="none" stroke="#7d7ea2" stroke-width="1.400" stroke-linecap="round"><path d="M.700 3.600H3.200M7.600 3.600H14.700M.700 10.800H7.800M12.200 10.800H14.700"/><circle cx="5.400" cy="3.600" r="2.100"/><circle cx="10" cy="10.800" r="2.100"/></g></svg>
<div class="t" style="left:1664.80px;top:419.00px;font-size:16px;line-height:21px;color:#7d7ea2;letter-spacing:0.000px;-webkit-text-stroke:0.2px #7d7ea2;transform:scaleX(1.0508);transform-origin:0 0;">2%</div>
<div class="t" style="left:633.40px;top:491.00px;font-size:20px;line-height:26px;color:#ffffff;letter-spacing:-0.250px;font-weight:700;transform:scaleX(0.9733);transform-origin:0 0;">Enter deposit amount:</div>
<div class="b" style="left:1558.90px;top:486.80px;width:60.00px;height:32.10px;background:#8a8aa9;border-radius:17px;"></div>
<div class="b" style="left:1564.60px;top:489.10px;width:27.60px;height:27.60px;background:#b6b5cb;border-radius:14px;"></div>
<div class="t" style="left:1629.90px;top:491.50px;font-size:18.6px;line-height:24px;color:#ffffff;letter-spacing:0.158px;-webkit-text-stroke:0.5px #ffffff;transform:scaleX(1.1000);transform-origin:0 0;">Auto-Fill</div>
<div class="b" style="left:632.60px;top:535.90px;width:529.60px;height:86.30px;background:#141529;border:1.2px solid #2b2c48;border-radius:11px;box-sizing:border-box;"></div>
<div class="b" style="left:1177.70px;top:535.90px;width:529.00px;height:86.30px;background:#141529;border:1.2px solid #2b2c48;border-radius:11px;box-sizing:border-box;"></div>
<svg class="b" style="left:650.20px;top:556.80px;" width="43.60" height="43.60" viewBox="0 0 100 100"><defs><linearGradient id="sg4" gradientUnits="userSpaceOnUse" x1="40" y1="75" x2="60" y2="25"><stop offset="0" stop-color="#a84cff"/><stop offset="0.35" stop-color="#8a6cee"/><stop offset="0.65" stop-color="#45bcc6"/><stop offset="1" stop-color="#22f09c"/></linearGradient></defs><circle cx="50" cy="50" r="50" fill="#000"/><g fill="url(#sg4)"><polygon points="31.4,27 75.2,27 68.6,39.2 24.8,39.2"/><polygon points="24.8,44.4 68.6,44.4 75.2,56.4 31.4,56.4"/><polygon points="31.4,61.6 75.2,61.6 68.6,73.6 24.8,73.6"/></g></svg>
<svg class="b" style="left:1194.60px;top:556.80px;" width="43.60" height="43.60" viewBox="0 0 100 100"><circle cx="50" cy="50" r="50" fill="#2d7ad3"/><g fill="none" stroke="#fff" stroke-width="6.6" stroke-linecap="round"><path d="M39 16.2 A35.5 35.5 0 0 0 39 83.8"/><path d="M61 16.2 A35.5 35.5 0 0 1 61 83.8"/></g><text x="50" y="70.8" text-anchor="middle" font-family="Liberation Sans, sans-serif" font-size="58" fill="#fff" stroke="#fff" stroke-width="1.3">$</text></svg>
<div class="t" style="left:705.00px;top:565.00px;font-size:21.5px;line-height:28px;color:#ffffff;letter-spacing:-0.250px;font-weight:700;transform:scaleX(0.9720);transform-origin:0 0;">SOL</div>
<div class="t" style="left:1249.40px;top:565.00px;font-size:21.5px;line-height:28px;color:#ffffff;letter-spacing:0.000px;font-weight:700;transform:scaleX(1.0091);transform-origin:0 0;">USDC</div>
<div class="t" style="left:1078.85px;top:564.00px;font-size:23px;line-height:30px;color:#55566f;letter-spacing:1.487px;-webkit-text-stroke:0.3px #55566f;transform:scaleX(1.1000);transform-origin:0 0;">0.00</div>
<div class="t" style="left:1629.85px;top:564.00px;font-size:23px;line-height:30px;color:#dcdcf0;letter-spacing:2.562px;-webkit-text-stroke:0.4px #dcdcf0;transform:scaleX(1.1000);transform-origin:0 0;">300</div>
<div class="t" style="left:633.70px;top:643.50px;font-size:16.7px;line-height:22px;color:#4e4f6c;letter-spacing:0.000px;transform:scaleX(1.0137);transform-origin:0 0;">Balance: 2.505237191</div>
<div class="t" style="left:1178.20px;top:643.50px;font-size:16.7px;line-height:22px;color:#4e4f6c;letter-spacing:0.000px;transform:scaleX(1.0516);transform-origin:0 0;">Balance: 300.00</div>
<div class="b" style="left:1039.80px;top:638.40px;width:57.20px;height:31.30px;background:#252641;border-radius:16px;"></div>
<div class="t" style="left:1050.04px;top:645.50px;font-size:14.4px;line-height:19px;color:#9495b3;letter-spacing:-0.250px;font-weight:700;transform:scaleX(0.9755);transform-origin:0 0;">HALF</div>
<div class="b" style="left:1107.80px;top:638.40px;width:53.90px;height:31.30px;background:#252641;border-radius:16px;"></div>
<div class="t" style="left:1118.69px;top:645.50px;font-size:14.4px;line-height:19px;color:#9495b3;letter-spacing:0.000px;font-weight:700;transform:scaleX(1.0037);transform-origin:0 0;">MAX</div>
<div class="b" style="left:1585.30px;top:638.40px;width:56.50px;height:31.30px;background:#252641;border-radius:16px;"></div>
<div class="t" style="left:1595.19px;top:645.50px;font-size:14.4px;line-height:19px;color:#9495b3;letter-spacing:-0.250px;font-weight:700;transform:scaleX(0.9755);transform-origin:0 0;">HALF</div>
<div class="b" style="left:1652.90px;top:638.40px;width:52.60px;height:31.30px;background:#252641;border-radius:16px;"></div>
<div class="t" style="left:1663.14px;top:645.50px;font-size:14.4px;line-height:19px;color:#9495b3;letter-spacing:0.000px;font-weight:700;transform:scaleX(1.0037);transform-origin:0 0;">MAX</div>
<div class="b" style="left:633.00px;top:691.70px;width:1073.00px;height:1.20px;background:#2a2c45;"></div>
<div class="t" style="left:633.70px;top:721.00px;font-size:20px;line-height:26px;color:#ffffff;letter-spacing:-0.250px;font-weight:700;transform:scaleX(0.9961);transform-origin:0 0;">Select Volatility Strategy</div>
<div class="t" style="left:633.70px;top:764.00px;font-size:19px;line-height:25px;color:#47486a;letter-spacing:0.000px;transform:scaleX(1.0624);transform-origin:0 0;"><b style="color:#55567a">Spot</b> provides a uniform distribution that is versatile and</div>
<div class="t" style="left:633.70px;top:791.00px;font-size:19px;line-height:25px;color:#47486a;letter-spacing:0.000px;transform:scaleX(1.0678);transform-origin:0 0;">risk adjusted, suitable for any type of market and</div>
<div class="t" style="left:633.70px;top:818.00px;font-size:19px;line-height:25px;color:#47486a;letter-spacing:0.000px;transform:scaleX(1.0627);transform-origin:0 0;">conditions. This is similar to setting a CLMM price range.</div>
<div class="b" style="left:1177.60px;top:719.70px;width:165.60px;height:150.20px;border:1.3px solid #e0573c;border-radius:10px;box-sizing:border-box;"></div>
<div class="b" style="left:1358.60px;top:719.70px;width:166.60px;height:150.20px;border:1.2px solid #2b2c48;border-radius:10px;box-sizing:border-box;"></div>
<div class="b" style="left:1540.50px;top:719.70px;width:166.30px;height:150.20px;border:1.2px solid #2b2c48;border-radius:10px;box-sizing:border-box;"></div>
<div class="t" style="left:1238.90px;top:811.00px;font-size:20px;line-height:26px;color:#ffffff;letter-spacing:-0.250px;font-weight:700;transform:scaleX(0.9935);transform-origin:0 0;">Spot</div>
<div class="t" style="left:1414.10px;top:811.00px;font-size:20px;line-height:26px;color:#ffffff;letter-spacing:-0.250px;font-weight:700;transform:scaleX(0.9912);transform-origin:0 0;">Curve</div>
<div class="t" style="left:1588.70px;top:811.00px;font-size:20px;line-height:26px;color:#ffffff;letter-spacing:-0.250px;font-weight:700;transform:scaleX(0.9554);transform-origin:0 0;">Bid Ask</div>
<svg class="b" style="left:0.00px;top:0.00px;pointer-events:none;" width="1714.00" height="900.00" viewBox="0 0 1714 900"><rect x="1200.30" y="779.80" width="6.9" height="13.40" rx="2.400" fill="#12b3d8"/><rect x="1209.80" y="779.80" width="6.9" height="13.40" rx="2.400" fill="#12b3d8"/><rect x="1219.30" y="779.80" width="6.9" height="13.40" rx="2.400" fill="#12b3d8"/><rect x="1228.80" y="752.70" width="6.9" height="40.50" rx="2.400" fill="#12b3d8"/><rect x="1238.30" y="752.70" width="6.9" height="40.50" rx="2.400" fill="#12b3d8"/><rect x="1247.80" y="752.70" width="6.9" height="40.50" rx="2.400" fill="#12b3d8"/><rect x="1257.30" y="752.70" width="6.9" height="19.40" rx="2.400" fill="#6c6cb6"/><rect x="1257.30" y="774.60" width="6.9" height="18.60" rx="2.400" fill="#12b3d8"/><rect x="1266.80" y="752.70" width="6.9" height="40.50" rx="2.400" fill="#6c6cb6"/><rect x="1276.30" y="752.70" width="6.9" height="40.50" rx="2.400" fill="#6c6cb6"/><rect x="1285.80" y="752.70" width="6.9" height="40.50" rx="2.400" fill="#6c6cb6"/><rect x="1295.30" y="779.80" width="6.9" height="13.40" rx="2.400" fill="#6c6cb6"/><rect x="1304.80" y="779.80" width="6.9" height="13.40" rx="2.400" fill="#6c6cb6"/><rect x="1314.30" y="779.80" width="6.9" height="13.40" rx="2.400" fill="#6c6cb6"/><rect x="1381.00" y="782.34" width="6.9" height="10.86" rx="2.400" fill="#45466a"/><rect x="1390.55" y="782.34" width="6.9" height="10.86" rx="2.400" fill="#45466a"/><rect x="1400.10" y="782.34" width="6.9" height="10.86" rx="2.400" fill="#45466a"/><rect x="1409.65" y="772.06" width="6.9" height="21.14" rx="2.400" fill="#45466a"/><rect x="1419.20" y="762.09" width="6.9" height="31.11" rx="2.400" fill="#45466a"/><rect x="1428.75" y="755.86" width="6.9" height="37.34" rx="2.400" fill="#45466a"/><rect x="1438.30" y="752.74" width="6.9" height="17.76" rx="2.400" fill="#45466a"/><rect x="1438.30" y="774.55" width="6.9" height="18.65" rx="2.400" fill="#45466a"/><rect x="1447.85" y="755.86" width="6.9" height="37.34" rx="2.400" fill="#45466a"/><rect x="1457.40" y="762.09" width="6.9" height="31.11" rx="2.400" fill="#45466a"/><rect x="1466.95" y="772.06" width="6.9" height="21.14" rx="2.400" fill="#45466a"/><rect x="1476.50" y="782.34" width="6.9" height="10.86" rx="2.400" fill="#45466a"/><rect x="1486.05" y="782.34" width="6.9" height="10.86" rx="2.400" fill="#45466a"/><rect x="1495.60" y="782.34" width="6.9" height="10.86" rx="2.400" fill="#45466a"/><rect x="1562.90" y="752.74" width="7.5" height="40.46" rx="2.400" fill="#45466a"/><rect x="1573.24" y="757.11" width="7.5" height="36.09" rx="2.400" fill="#45466a"/><rect x="1583.58" y="762.09" width="7.5" height="31.11" rx="2.400" fill="#45466a"/><rect x="1593.92" y="772.99" width="7.5" height="20.21" rx="2.400" fill="#45466a"/><rect x="1604.26" y="778.29" width="7.5" height="14.91" rx="2.400" fill="#45466a"/><rect x="1614.60" y="782.34" width="7.5" height="10.86" rx="2.400" fill="#45466a"/><rect x="1624.94" y="782.34" width="7.5" height="10.86" rx="2.400" fill="#45466a"/><rect x="1635.28" y="778.29" width="7.5" height="14.91" rx="2.400" fill="#45466a"/><rect x="1645.62" y="772.99" width="7.5" height="20.21" rx="2.400" fill="#45466a"/><rect x="1655.96" y="762.09" width="7.5" height="31.11" rx="2.400" fill="#45466a"/><rect x="1666.30" y="757.11" width="7.5" height="36.09" rx="2.400" fill="#45466a"/><rect x="1676.64" y="752.74" width="7.5" height="40.46" rx="2.400" fill="#45466a"/></svg>
<div class="b" style="left:633.00px;top:897.10px;width:1073.00px;height:1.20px;background:#2a2c45;"></div>
<div class="t" style="left:633.80px;top:931.00px;font-size:20px;line-height:26px;color:#ffffff;letter-spacing:-0.250px;font-weight:700;transform:scaleX(0.9712);transform-origin:0 0;">Set Price Range</div>
<svg class="b" style="left:795.90px;top:940.20px;" width="12.40" height="15.00" viewBox="0 0 12.400 15"><g fill="none" stroke="#6c6d88" stroke-width="1.400" stroke-linecap="round"><path d="M3 11.800A5.400 5.400 0 0 1 5.800 2.120"/><path d="M9.400 3.200A5.400 5.400 0 0 1 6.600 12.880"/></g><path d="M5.500 -.200L8.500 2.100L5.500 4.400Z" fill="#6c6d88"/><path d="M6.900 10.600L3.900 12.900L6.900 15.200Z" fill="#6c6d88"/></svg>
<div class="t" style="left:816.00px;top:933.50px;font-size:19.5px;line-height:25px;color:#6c6d88;letter-spacing:0.000px;-webkit-text-stroke:0.3px #6c6d88;transform:scaleX(1.0078);transform-origin:0 0;">Reset Price</div>
<div class="b" style="left:1257.70px;top:935.00px;width:17.50px;height:17.50px;background:#7575b8;border-radius:9px;"></div>
<div class="t" style="left:1291.30px;top:933.50px;font-size:17px;line-height:22px;color:#77789a;letter-spacing:-0.250px;font-weight:700;transform:scaleX(0.9246);transform-origin:0 0;">SOL</div>
<div class="b" style="left:1354.50px;top:935.00px;width:17.50px;height:17.50px;background:#16b4d4;border-radius:9px;"></div>
<div class="t" style="left:1387.60px;top:933.50px;font-size:17px;line-height:22px;color:#77789a;letter-spacing:-0.250px;font-weight:700;transform:scaleX(0.9816);transform-origin:0 0;">USDC</div>
<div class="b" style="left:1467.20px;top:920.50px;width:238.60px;height:46.60px;background:#15162a;border-radius:24px;"></div>
<div class="b" style="left:1470.90px;top:925.30px;width:108.40px;height:37.60px;background:#22233c;border-radius:19px;"></div>
<svg class="b" style="left:1492.60px;top:932.40px;" width="22.60" height="22.60" viewBox="0 0 100 100"><defs><linearGradient id="sg5" gradientUnits="userSpaceOnUse" x1="40" y1="75" x2="60" y2="25"><stop offset="0" stop-color="#a84cff"/><stop offset="0.35" stop-color="#8a6cee"/><stop offset="0.65" stop-color="#45bcc6"/><stop offset="1" stop-color="#22f09c"/></linearGradient></defs><circle cx="50" cy="50" r="50" fill="#000"/><g fill="url(#sg5)"><polygon points="31.4,27 75.2,27 68.6,39.2 24.8,39.2"/><polygon points="24.8,44.4 68.6,44.4 75.2,56.4 31.4,56.4"/><polygon points="31.4,61.6 75.2,61.6 68.6,73.6 24.8,73.6"/></g></svg>
<svg class="b" style="left:1600.20px;top:932.40px;" width="22.60" height="22.60" viewBox="0 0 100 100"><circle cx="50" cy="50" r="50" fill="#2d7ad3"/><g fill="none" stroke="#fff" stroke-width="6.6" stroke-linecap="round"><path d="M39 16.2 A35.5 35.5 0 0 0 39 83.8"/><path d="M61 16.2 A35.5 35.5 0 0 1 61 83.8"/></g><text x="50" y="70.8" text-anchor="middle" font-family="Liberation Sans, sans-serif" font-size="58" fill="#fff" stroke="#fff" stroke-width="1.3">$</text></svg>
<div class="t" style="left:1525.70px;top:933.50px;font-size:17px;line-height:22px;color:#ffffff;letter-spacing:-0.250px;font-weight:700;transform:scaleX(0.9507);transform-origin:0 0;">SOL</div>
<div class="t" style="left:1633.80px;top:933.50px;font-size:17px;line-height:22px;color:#4c4d6a;letter-spacing:-0.250px;-webkit-text-stroke:0.2px #4c4d6a;transform:scaleX(0.9584);transform-origin:0 0;">USDC</div>
<div class="b" style="left:633.40px;top:985.30px;width:1072.90px;height:700.70px;background:#1f2035;border-radius:15px;"></div>
<svg class="b" style="left:0.00px;top:0.00px;pointer-events:none;" width="1714.00" height="1696.00" viewBox="0 0 1714 1696"><line x1="662" x2="1660" y1="1246" y2="1246" stroke="#5b5c78" stroke-width="3.600" stroke-linecap="round"/><path d="M673.10 1246V1095.25a5.250 5.250 0 0 1 10.500 0V1246z" fill="#10addb"/><path d="M687.54 1246V1095.25a5.250 5.250 0 0 1 10.500 0V1246z" fill="#10addb"/><path d="M701.98 1246V1095.25a5.250 5.250 0 0 1 10.500 0V1246z" fill="#10addb"/><path d="M716.42 1246V1095.25a5.250 5.250 0 0 1 10.500 0V1246z" fill="#10addb"/><path d="M730.86 1246V1095.25a5.250 5.250 0 0 1 10.500 0V1246z" fill="#10addb"/><path d="M745.30 1246V1095.25a5.250 5.250 0 0 1 10.500 0V1246z" fill="#10addb"/><path d="M759.74 1246V1095.25a5.250 5.250 0 0 1 10.500 0V1246z" fill="#10addb"/><path d="M774.18 1246V1095.25a5.250 5.250 0 0 1 10.500 0V1246z" fill="#10addb"/><path d="M788.62 1246V1095.25a5.250 5.250 0 0 1 10.500 0V1246z" fill="#10addb"/><path d="M803.06 1246V1095.25a5.250 5.250 0 0 1 10.500 0V1246z" fill="#10addb"/><path d="M817.50 1246V1095.25a5.250 5.250 0 0 1 10.500 0V1246z" fill="#10addb"/><path d="M831.94 1246V1095.25a5.250 5.250 0 0 1 10.500 0V1246z" fill="#10addb"/><path d="M846.38 1246V1095.25a5.250 5.250 0 0 1 10.500 0V1246z" fill="#10addb"/><path d="M860.82 1246V1095.25a5.250 5.250 0 0 1 10.500 0V1246z" fill="#10addb"/><path d="M875.26 1246V1095.25a5.250 5.250 0 0 1 10.500 0V1246z" fill="#10addb"/><path d="M889.70 1246V1095.25a5.250 5.250 0 0 1 10.500 0V1246z" fill="#10addb"/><path d="M904.14 1246V1095.25a5.250 5.250 0 0 1 10.500 0V1246z" fill="#10addb"/><path d="M918.58 1246V1095.25a5.250 5.250 0 0 1 10.500 0V1246z" fill="#10addb"/><path d="M933.02 1246V1095.25a5.250 5.250 0 0 1 10.500 0V1246z" fill="#10addb"/><path d="M947.46 1246V1095.25a5.250 5.250 0 0 1 10.500 0V1246z" fill="#10addb"/><path d="M961.90 1246V1095.25a5.250 5.250 0 0 1 10.500 0V1246z" fill="#10addb"/><path d="M976.34 1246V1095.25a5.250 5.250 0 0 1 10.500 0V1246z" fill="#10addb"/><path d="M990.78 1246V1095.25a5.250 5.250 0 0 1 10.500 0V1246z" fill="#10addb"/><path d="M1005.22 1246V1095.25a5.250 5.250 0 0 1 10.500 0V1246z" fill="#10addb"/><path d="M1019.66 1246V1095.25a5.250 5.250 0 0 1 10.500 0V1246z" fill="#10addb"/><path d="M1034.10 1246V1095.25a5.250 5.250 0 0 1 10.500 0V1246z" fill="#10addb"/><path d="M1048.54 1246V1095.25a5.250 5.250 0 0 1 10.500 0V1246z" fill="#10addb"/><path d="M1062.98 1246V1095.25a5.250 5.250 0 0 1 10.500 0V1246z" fill="#10addb"/><path d="M1077.42 1246V1095.25a5.250 5.250 0 0 1 10.500 0V1246z" fill="#10addb"/><path d="M1091.86 1246V1095.25a5.250 5.250 0 0 1 10.500 0V1246z" fill="#10addb"/><path d="M1106.30 1246V1095.25a5.250 5.250 0 0 1 10.500 0V1246z" fill="#10addb"/><path d="M1120.74 1246V1095.25a5.250 5.250 0 0 1 10.500 0V1246z" fill="#10addb"/><path d="M1135.18 1246V1095.25a5.250 5.250 0 0 1 10.500 0V1246z" fill="#10addb"/><path d="M1149.62 1246V1095.25a5.250 5.250 0 0 1 10.500 0V1246z" fill="#10addb"/><path d="M1164.06 1246V1095.25a5.250 5.250 0 0 1 10.500 0V1246z" fill="#10addb"/><path d="M1178.50 1246V1095.25a5.250 5.250 0 0 1 10.500 0V1246z" fill="#10addb"/><path d="M1192.94 1246V1095.25a5.250 5.250 0 0 1 10.500 0V1246z" fill="#10addb"/><path d="M1207.38 1246V1095.25a5.250 5.250 0 0 1 10.500 0V1246z" fill="#10addb"/><path d="M1221.82 1246V1095.25a5.250 5.250 0 0 1 10.500 0V1246z" fill="#10addb"/><path d="M1236.26 1246V1095.25a5.250 5.250 0 0 1 10.500 0V1246z" fill="#10addb"/><path d="M1250.70 1246V1095.25a5.250 5.250 0 0 1 10.500 0V1246z" fill="#10addb"/><path d="M1265.14 1246V1095.25a5.250 5.250 0 0 1 10.500 0V1246z" fill="#10addb"/><path d="M1279.58 1246V1095.25a5.250 5.250 0 0 1 10.500 0V1246z" fill="#10addb"/><path d="M1294.02 1246V1095.25a5.250 5.250 0 0 1 10.500 0V1246z" fill="#10addb"/><path d="M1308.46 1246V1095.25a5.250 5.250 0 0 1 10.500 0V1246z" fill="#10addb"/><path d="M1322.90 1246V1095.25a5.250 5.250 0 0 1 10.500 0V1246z" fill="#10addb"/><path d="M1337.34 1246V1095.25a5.250 5.250 0 0 1 10.500 0V1246z" fill="#10addb"/><path d="M1351.78 1246V1095.25a5.250 5.250 0 0 1 10.500 0V1246z" fill="#10addb"/><path d="M1366.22 1246V1095.25a5.250 5.250 0 0 1 10.500 0V1246z" fill="#10addb"/><path d="M1380.66 1246V1095.25a5.250 5.250 0 0 1 10.500 0V1246z" fill="#10addb"/><path d="M1395.10 1246V1095.25a5.250 5.250 0 0 1 10.500 0V1246z" fill="#10addb"/><path d="M1409.54 1246V1095.25a5.250 5.250 0 0 1 10.500 0V1246z" fill="#10addb"/><path d="M1423.98 1246V1095.25a5.250 5.250 0 0 1 10.500 0V1246z" fill="#10addb"/><path d="M1438.42 1246V1095.25a5.250 5.250 0 0 1 10.500 0V1246z" fill="#10addb"/><path d="M1452.86 1246V1095.25a5.250 5.250 0 0 1 10.500 0V1246z" fill="#10addb"/><path d="M1467.30 1246V1095.25a5.250 5.250 0 0 1 10.500 0V1246z" fill="#10addb"/><path d="M1481.74 1246V1095.25a5.250 5.250 0 0 1 10.500 0V1246z" fill="#10addb"/><path d="M1496.18 1246V1095.25a5.250 5.250 0 0 1 10.500 0V1246z" fill="#10addb"/><path d="M1510.62 1246V1095.25a5.250 5.250 0 0 1 10.500 0V1246z" fill="#10addb"/><path d="M1525.06 1246V1095.25a5.250 5.250 0 0 1 10.500 0V1246z" fill="#10addb"/><path d="M1539.50 1246V1095.25a5.250 5.250 0 0 1 10.500 0V1246z" fill="#10addb"/><path d="M1553.94 1246V1095.25a5.250 5.250 0 0 1 10.500 0V1246z" fill="#10addb"/><path d="M1568.38 1246V1095.25a5.250 5.250 0 0 1 10.500 0V1246z" fill="#10addb"/><path d="M1582.82 1246V1095.25a5.250 5.250 0 0 1 10.500 0V1246z" fill="#10addb"/><path d="M1597.26 1246V1095.25a5.250 5.250 0 0 1 10.500 0V1246z" fill="#10addb"/><path d="M1611.70 1246V1095.25a5.250 5.250 0 0 1 10.500 0V1246z" fill="#10addb"/><path d="M1626.14 1246V1095.25a5.250 5.250 0 0 1 10.500 0V1246z" fill="#10addb"/><path d="M1640.58 1246V1095.25a5.250 5.250 0 0 1 10.500 0V1246z" fill="#10addb"/><path d="M1655.02 1246V1095.25a5.250 5.250 0 0 1 10.500 0V1246z" fill="#10addb"/><rect x="672.900" y="1244.200" width="993" height="2" fill="#ffffff" opacity=".22"/><text x="732.0" y="1285.2" text-anchor="middle" transform="rotate(-26 732.0 1279.5)" font-family="Liberation Sans, sans-serif" font-size="16" fill="#8e8fa8">105.53</text><text x="804.2" y="1285.2" text-anchor="middle" transform="rotate(-26 804.2 1279.5)" font-family="Liberation Sans, sans-serif" font-size="16" fill="#8e8fa8">110.91</text><text x="876.4" y="1285.2" text-anchor="middle" transform="rotate(-26 876.4 1279.5)" font-family="Liberation Sans, sans-serif" font-size="16" fill="#8e8fa8">116.57</text><text x="948.6" y="1285.2" text-anchor="middle" transform="rotate(-26 948.6 1279.5)" font-family="Liberation Sans, sans-serif" font-size="16" fill="#8e8fa8">122.52</text><text x="1020.8" y="1285.2" text-anchor="middle" transform="rotate(-26 1020.8 1279.5)" font-family="Liberation Sans, sans-serif" font-size="16" fill="#8e8fa8">128.76</text><text x="1093.0" y="1285.2" text-anchor="middle" transform="rotate(-26 1093.0 1279.5)" font-family="Liberation Sans, sans-serif" font-size="16" fill="#8e8fa8">135.33</text><text x="1165.2" y="1285.2" text-anchor="middle" transform="rotate(-26 1165.2 1279.5)" font-family="Liberation Sans, sans-serif" font-size="16" fill="#8e8fa8">142.24</text><text x="1237.4" y="1285.2" text-anchor="middle" transform="rotate(-26 1237.4 1279.5)" font-family="Liberation Sans, sans-serif" font-size="16" fill="#8e8fa8">149.49</text><text x="1309.6" y="1285.2" text-anchor="middle" transform="rotate(-26 1309.6 1279.5)" font-family="Liberation Sans, sans-serif" font-size="16" fill="#8e8fa8">157.12</text><text x="1381.8" y="1285.2" text-anchor="middle" transform="rotate(-26 1381.8 1279.5)" font-family="Liberation Sans, sans-serif" font-size="16" fill="#8e8fa8">165.13</text><text x="1454.0" y="1285.2" text-anchor="middle" transform="rotate(-26 1454.0 1279.5)" font-family="Liberation Sans, sans-serif" font-size="16" fill="#8e8fa8">173.56</text><text x="1526.2" y="1285.2" text-anchor="middle" transform="rotate(-26 1526.2 1279.5)" font-family="Liberation Sans, sans-serif" font-size="16" fill="#8e8fa8">182.41</text><text x="1598.4" y="1285.2" text-anchor="middle" transform="rotate(-26 1598.4 1279.5)" font-family="Liberation Sans, sans-serif" font-size="16" fill="#8e8fa8">191.71</text><rect x="1481.900" y="1011.900" width="169.600" height="66.700" rx="8" fill="#141829"/><rect x="1658.800" y="1011.900" width="4.200" height="226" fill="#ffffff"/><rect x="1638.700" y="1235.800" width="40.600" height="15.900" rx="4.500" fill="#ffffff"/><rect x="1656.00" y="1238.800" width="1.700" height="11.600" fill="#111"/><rect x="1659.40" y="1238.800" width="1.700" height="11.600" fill="#111"/><rect x="1662.80" y="1238.800" width="1.700" height="11.600" fill="#111"/><rect x="1665.50" y="1373.10" width="10.700" height="69.90" fill="#8284ba"/><rect x="1650.72" y="1374.20" width="10.700" height="68.80" fill="#44466b"/><rect x="1635.94" y="1372.40" width="10.700" height="70.60" fill="#44466b"/><rect x="1621.16" y="1370.30" width="10.700" height="72.70" fill="#44466b"/><rect x="1606.38" y="1366.70" width="10.700" height="76.30" fill="#44466b"/><rect x="1591.60" y="1362.90" width="10.700" height="80.10" fill="#44466b"/><rect x="1576.82" y="1360.00" width="10.700" height="83.00" fill="#44466b"/><rect x="1562.04" y="1357.50" width="10.700" height="85.50" fill="#44466b"/><rect x="1547.26" y="1357.00" width="10.700" height="86.00" fill="#44466b"/><rect x="1532.48" y="1354.40" width="10.700" height="88.60" fill="#44466b"/><rect x="1517.70" y="1406.50" width="10.700" height="36.50" fill="#44466b"/><rect x="1502.92" y="1407.00" width="10.700" height="36.00" fill="#44466b"/><rect x="1488.14" y="1407.30" width="10.700" height="35.70" fill="#44466b"/><rect x="1473.36" y="1407.50" width="10.700" height="35.50" fill="#44466b"/><rect x="1458.58" y="1408.00" width="10.700" height="35.00" fill="#44466b"/><rect x="1443.80" y="1408.00" width="10.700" height="35.00" fill="#44466b"/><rect x="1429.02" y="1412.40" width="10.700" height="30.60" fill="#44466b"/><rect x="1414.24" y="1419.80" width="10.700" height="23.20" fill="#44466b"/><rect x="1399.46" y="1421.60" width="10.700" height="21.40" fill="#44466b"/><rect x="1384.68" y="1421.60" width="10.700" height="21.40" fill="#44466b"/><rect x="1369.90" y="1421.90" width="10.700" height="21.10" fill="#44466b"/><rect x="1355.12" y="1421.90" width="10.700" height="21.10" fill="#44466b"/><rect x="1340.34" y="1422.20" width="10.700" height="20.80" fill="#44466b"/><rect x="1325.56" y="1422.20" width="10.700" height="20.80" fill="#44466b"/><rect x="1310.78" y="1422.20" width="10.700" height="20.80" fill="#44466b"/><rect x="1296.00" y="1424.50" width="10.700" height="18.50" fill="#44466b"/><rect x="1281.22" y="1425.20" width="10.700" height="17.80" fill="#44466b"/><rect x="1266.44" y="1425.30" width="10.700" height="17.70" fill="#44466b"/><rect x="1251.66" y="1425.30" width="10.700" height="17.70" fill="#44466b"/><rect x="1236.88" y="1425.40" width="10.700" height="17.60" fill="#44466b"/><rect x="1222.10" y="1425.40" width="10.700" height="17.60" fill="#44466b"/><rect x="1207.32" y="1438.10" width="10.700" height="4.90" fill="#44466b"/><rect x="1192.54" y="1438.50" width="10.700" height="4.50" fill="#44466b"/><rect x="1177.76" y="1441.20" width="10.700" height="1.80" fill="#44466b"/><rect x="1162.98" y="1441.20" width="10.700" height="1.80" fill="#44466b"/><rect x="1148.20" y="1441.20" width="10.700" height="1.80" fill="#44466b"/><rect x="1133.42" y="1441.20" width="10.700" height="1.80" fill="#44466b"/><rect x="1118.64" y="1441.20" width="10.700" height="1.80" fill="#44466b"/><rect x="1103.86" y="1441.20" width="10.700" height="1.80" fill="#44466b"/><rect x="1089.08" y="1441.20" width="10.700" height="1.80" fill="#44466b"/><rect x="1074.30" y="1441.20" width="10.700" height="1.80" fill="#44466b"/><rect x="1059.52" y="1441.20" width="10.700" height="1.80" fill="#44466b"/><line x1="671" x2="1668.400" y1="1444.300" y2="1444.300" stroke="#7d7fb4" stroke-width="5"/><circle cx="671" cy="1443.800" r="11.200" fill="#8183b6"/><circle cx="1668.400" cy="1443.800" r="11.200" fill="#8183b6"/><text x="1611.9" y="1472" text-anchor="middle" font-family="Liberation Sans, sans-serif" font-size="16.100" fill="#8e8fab" textLength="48.300" lengthAdjust="spacingAndGlyphs">189.82</text><text x="1552.8" y="1472" text-anchor="middle" font-family="Liberation Sans, sans-serif" font-size="16.100" fill="#8e8fab" textLength="48.300" lengthAdjust="spacingAndGlyphs">182.41</text><text x="1493.7" y="1472" text-anchor="middle" font-family="Liberation Sans, sans-serif" font-size="16.100" fill="#8e8fab" textLength="48.300" lengthAdjust="spacingAndGlyphs">175.29</text><text x="1434.6" y="1472" text-anchor="middle" font-family="Liberation Sans, sans-serif" font-size="16.100" fill="#8e8fab" textLength="48.300" lengthAdjust="spacingAndGlyphs">168.45</text><text x="1375.5" y="1472" text-anchor="middle" font-family="Liberation Sans, sans-serif" font-size="16.100" fill="#8e8fab" textLength="48.300" lengthAdjust="spacingAndGlyphs">161.88</text><text x="1316.4" y="1472" text-anchor="middle" font-family="Liberation Sans, sans-serif" font-size="16.100" fill="#8e8fab" textLength="48.300" lengthAdjust="spacingAndGlyphs">155.56</text><text x="1257.3" y="1472" text-anchor="middle" font-family="Liberation Sans, sans-serif" font-size="16.100" fill="#8e8fab" textLength="48.300" lengthAdjust="spacingAndGlyphs">149.49</text><text x="1198.2" y="1472" text-anchor="middle" font-family="Liberation Sans, sans-serif" font-size="16.100" fill="#8e8fab" textLength="48.300" lengthAdjust="spacingAndGlyphs">143.66</text><text x="1139.1" y="1472" text-anchor="middle" font-family="Liberation Sans, sans-serif" font-size="16.100" fill="#8e8fab" textLength="48.300" lengthAdjust="spacingAndGlyphs">138.05</text><text x="1080.0" y="1472" text-anchor="middle" font-family="Liberation Sans, sans-serif" font-size="16.100" fill="#8e8fab" textLength="48.300" lengthAdjust="spacingAndGlyphs">132.67</text><text x="1020.9" y="1472" text-anchor="middle" font-family="Liberation Sans, sans-serif" font-size="16.100" fill="#8e8fab" textLength="48.300" lengthAdjust="spacingAndGlyphs">127.49</text><text x="961.8" y="1472" text-anchor="middle" font-family="Liberation Sans, sans-serif" font-size="16.100" fill="#8e8fab" textLength="48.300" lengthAdjust="spacingAndGlyphs">122.52</text><text x="902.7" y="1472" text-anchor="middle" font-family="Liberation Sans, sans-serif" font-size="16.100" fill="#8e8fab" textLength="48.300" lengthAdjust="spacingAndGlyphs">117.73</text><text x="843.6" y="1472" text-anchor="middle" font-family="Liberation Sans, sans-serif" font-size="16.100" fill="#8e8fab" textLength="48.300" lengthAdjust="spacingAndGlyphs">113.14</text><text x="784.5" y="1472" text-anchor="middle" font-family="Liberation Sans, sans-serif" font-size="16.100" fill="#8e8fab" textLength="48.300" lengthAdjust="spacingAndGlyphs">108.73</text><text x="725.4" y="1472" text-anchor="middle" font-family="Liberation Sans, sans-serif" font-size="16.100" fill="#8e8fab" textLength="48.300" lengthAdjust="spacingAndGlyphs">104.48</text></svg>
<div class="t" style="left:1518.61px;top:1019.00px;font-size:15.8px;line-height:21px;color:#ffffff;letter-spacing:0.000px;transform:scaleX(1.0335);transform-origin:0 0;">Current Price</div>
<div class="t" style="left:1497.60px;top:1041.50px;font-size:16.2px;line-height:21px;color:#ffffff;letter-spacing:0.000px;font-weight:700;transform:scaleX(1.0033);transform-origin:0 0;">197.52 USDC/SOL</div>
<div class="t" style="left:660.40px;top:1497.50px;font-size:16.5px;line-height:21px;color:#ffffff;letter-spacing:0.000px;font-weight:700;transform:scaleX(0.9982);transform-origin:0 0;">Min Price</div>
<div class="t" style="left:1071.30px;top:1497.50px;font-size:16.5px;line-height:21px;color:#ffffff;letter-spacing:0.000px;font-weight:700;transform:scaleX(1.0010);transform-origin:0 0;">Max Price</div>
<div class="t" style="left:1482.20px;top:1497.50px;font-size:16.5px;line-height:21px;color:#ffffff;letter-spacing:-0.250px;font-weight:700;transform:scaleX(0.9836);transform-origin:0 0;">Num Bins</div>
<div class="b" style="left:659.90px;top:1524.90px;width:394.80px;height:56.40px;background:#181a2e;border:1.2px solid #2a2c47;border-radius:9px;box-sizing:border-box;"></div>
<div class="b" style="left:918.40px;top:1526.00px;width:1.20px;height:54.20px;background:#2a2c47;"></div>
<div class="b" style="left:1070.80px;top:1524.90px;width:394.90px;height:56.40px;background:#181a2e;border:1.2px solid #2a2c47;border-radius:9px;box-sizing:border-box;"></div>
<div class="b" style="left:1329.50px;top:1526.00px;width:1.20px;height:54.20px;background:#2a2c47;"></div>
<div class="b" style="left:1481.70px;top:1524.90px;width:197.40px;height:56.40px;background:#181a2e;border:1.2px solid #2a2c47;border-radius:9px;box-sizing:border-box;"></div>
<div class="t" style="left:753.35px;top:1535.50px;font-size:27px;line-height:35px;color:#dcdcf0;letter-spacing:0.000px;-webkit-text-stroke:0.9px #dcdcf0;transform:scaleX(1.0855);transform-origin:0 0;">100.406691</div>
<div class="t" style="left:935.55px;top:1535.50px;font-size:27px;line-height:35px;color:#dcdcf0;letter-spacing:0.000px;-webkit-text-stroke:0.9px #dcdcf0;transform:scaleX(1.0476);transform-origin:0 0;">-49.17%</div>
<div class="t" style="left:1170.05px;top:1535.50px;font-size:27px;line-height:35px;color:#dcdcf0;letter-spacing:0.000px;-webkit-text-stroke:0.9px #dcdcf0;transform:scaleX(1.0357);transform-origin:0 0;">197.522272</div>
<div class="t" style="left:1365.35px;top:1535.50px;font-size:27px;line-height:35px;color:#dcdcf0;letter-spacing:0.508px;-webkit-text-stroke:0.9px #dcdcf0;transform:scaleX(1.1000);transform-origin:0 0;">0.00%</div>
<div class="t" style="left:1631.35px;top:1535.50px;font-size:27px;line-height:35px;color:#dcdcf0;letter-spacing:1.649px;-webkit-text-stroke:0.9px #dcdcf0;transform:scaleX(1.1000);transform-origin:0 0;">69</div>
<div class="b" style="left:659.90px;top:1595.50px;width:1019.20px;height:63.30px;border:1.2px solid #2a2c47;border-radius:0 0 9px 9px;box-sizing:border-box;border-top:none;"></div>
<svg class="b" style="left:677.70px;top:1618.00px;" width="20.00" height="20.00" viewBox="0 0 20 20"><circle cx="10" cy="10" r="10" fill="#4e4f6b"/><circle cx="10.3" cy="5.4" r="1.7" fill="#1f2035"/><path d="M7.6 8.6h4.2v6h1.3v1.6H7.2v-1.6h1.5v-4.4H7.6z" fill="#1f2035"/></svg>
<div class="t" style="left:710.50px;top:1617.50px;font-size:18px;line-height:23px;color:#4c4d69;letter-spacing:0.000px;transform:scaleX(1.0972);transform-origin:0 0;">SOL needed to create 1 positions:</div>
<div class="t" style="left:1019.20px;top:1617.50px;font-size:18px;line-height:23px;color:#ffffff;letter-spacing:0.440px;font-weight:700;transform:scaleX(1.1000);transform-origin:0 0;">0.056565200 SOL</div>
<svg class="b" style="left:1446.80px;top:1623.50px;" width="13.40" height="8.00" viewBox="0 0 13.400 8"><path d="M1.200 1.200L6.700 6.600L12.200 1.200" fill="none" stroke="#4f506d" stroke-width="2.400" stroke-linecap="round" stroke-linejoin="round"/></svg>
<div class="t" style="left:1474.80px;top:1617.50px;font-size:18px;line-height:23px;color:#4c4d69;letter-spacing:0.160px;transform:scaleX(1.1000);transform-origin:0 0;">Show cost details</div>
<svg class="b" style="left:1645.40px;top:1619.70px;" width="16.60" height="17.20" viewBox="0 0 16.600 17.200"><path d="M5.30 2.17A7.1 7.1 0 1 1 3.55 13.88" fill="none" stroke="#8283a2" stroke-width="2.600" stroke-linecap="round"/></svg>
<div class="b" style="left:640.40px;top:1480.80px;width:1068.20px;height:121.80px;border:9.2px solid #e61b1d;box-sizing:border-box;"></div>
</div></body></html>
